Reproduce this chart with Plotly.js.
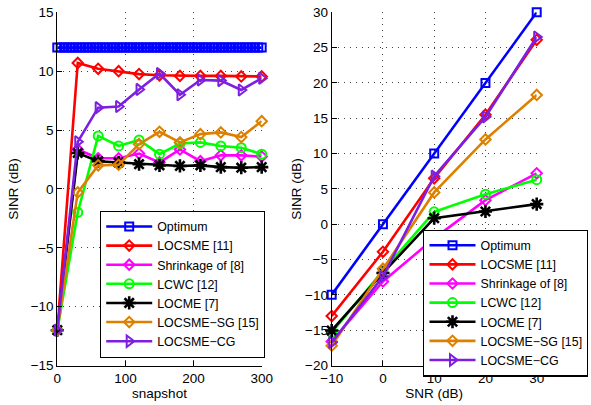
<!DOCTYPE html>
<html>
<head>
<meta charset="utf-8">
<script src="https://cdn.plot.ly/plotly-3.0.1.min.js"></script>
<style>html,body{margin:0;padding:0;background:#fff;}#chart{width:591px;height:405px;}</style>
</head>
<body>
<div id="chart"></div>
<script>
// ---- Data ----
const seriesNames = ["Optimum", "LOCSME [11]", "Shrinkage of [8]", "LCWC [12]", "LOCME [7]", "LOCSME\u2212SG [15]", "LOCSME\u2212CG"];

// Left panel: SINR vs snapshot
const optSnap = [0,5,10,15,20,25,30,35,40,45,50,55,60,65,70,75,80,85,90,95,100,105,110,115,120,125,130,135,140,145,150,155,160,165,170,175,180,185,190,195,200,205,210,215,220,225,230,235,240,245,250,255,260,265,270,275,280,285,290,295,300];
const optSinrSnap = [12,12,12,12,12,12,12,12,12,12,12,12,12,12,12,12,12,12,12,12,12,12,12,12,12,12,12,12,12,12,12,12,12,12,12,12,12,12,12,12,12,12,12,12,12,12,12,12,12,12,12,12,12,12,12,12,12,12,12,12,12];
const snapshots = [0, 30, 60, 90, 120, 150, 180, 210, 240, 270, 300];
const locsmeSnap = [-12, 10.7, 10.2, 10.0, 9.75, 9.65, 9.6, 9.6, 9.6, 9.55, 9.55];
const shrinkSnap = [-12, 3.35, 2.6, 2.6, 3.0, 2.25, 3.35, 2.35, 2.85, 2.85, 2.75];
const lcwcSnap   = [-12, -2.0, 4.5, 3.65, 4.15, 2.95, 3.85, 3.95, 3.65, 3.5, 2.95];
const locmeSnap  = [-12, 3.05, 2.35, 2.25, 2.1, 2.0, 1.95, 2.0, 1.85, 1.8, 1.85];
const sgSnap     = [-12, -0.3, 2.0, 2.05, 3.8, 4.85, 3.95, 4.65, 4.8, 4.4, 5.75];
const cgSnap     = [-12, 4.0, 6.9, 7.0, 8.45, 9.8, 8.0, 9.25, 9.2, 8.4, 9.4];

// Right panel: SINR vs SNR
const snrDb = [-10, 0, 10, 20, 30];
const optSnr    = [-10, 0, 10, 20, 30];
const locsmeSnr = [-13, -3.9, 6.5, 15.5, 26.1];
const shrinkSnr = [-16.6, -8.1, -2.0, 3.4, 7.2];
const lcwcSnr   = [-15.3, -6.6, 1.75, 4.25, 6.3];
const locmeSnr  = [-15.05, -6.9, 0.85, 1.8, 2.85];
const sgSnr     = [-17.2, -6.3, 4.5, 12.0, 18.3];
const cgSnr     = [-16.75, -7.4, 6.8, 15.2, 26.5];

const xTickVals1 = [0, 100, 200, 300];
const xTickVals2 = [-10, 0, 10, 20, 30];

// ---- Styles ----
const colors = ["#0000ff", "#ff0000", "#ff00ff", "#00ff00", "#000000", "#dd8000", "#7c1fe0"];
const symbols = ["square-open", "diamond-open", "diamond-open", "circle-open", "asterisk-open", "diamond-open", "triangle-right-open"];
const msizes = [8, 8, 8, 9, 11, 8, 10];

function mk(i, x, y, xa, ya, leg) {
  return {
    type: "scatter", mode: "lines+markers", x: x, y: y, name: seriesNames[i],
    xaxis: xa, yaxis: ya, legend: leg, cliponaxis: false,
    line: {color: colors[i], width: 2.6},
    marker: {symbol: symbols[i], size: msizes[i], color: colors[i],
             line: {color: colors[i], width: i === 4 ? 2.6 : 2}}
  };
}

const leftY = [optSinrSnap, locsmeSnap, shrinkSnap, lcwcSnap, locmeSnap, sgSnap, cgSnap];
const rightY = [optSnr, locsmeSnr, shrinkSnr, lcwcSnr, locmeSnr, sgSnr, cgSnr];
const traces = [];
for (let i = 0; i < 7; i++) {
  traces.push(mk(i, i === 0 ? optSnap : snapshots, leftY[i], "x", "y", "legend"));
}
for (let i = 0; i < 7; i++) {
  traces.push(mk(i, snrDb, rightY[i], "x2", "y2", "legend2"));
}

const fam = "Liberation Sans, Arial, Helvetica, sans-serif";
const font = {family: fam, size: 13.5, color: "#000"};
const legFont = {family: fam, size: 12.4, color: "#000"};
const axBase = {
  showline: true, linecolor: "#000", linewidth: 1, mirror: false,
  ticks: "inside", ticklen: 5, tickcolor: "#000", tickwidth: 1,
  showgrid: true, gridcolor: "#444", griddash: "1px,5px", gridwidth: 1,
  zeroline: false, tickfont: font, automargin: false
};
const yb = 1 - 365.5/405, yt = 1 - 12.3/405;

const layout = {
  width: 591, height: 405,
  margin: {l: 0, r: 0, t: 0, b: 0},
  paper_bgcolor: "#fff", plot_bgcolor: "#fff",
  font: font,
  xaxis: Object.assign({}, axBase, {domain: [57.3/591, 261.7/591], range: [0, 300], tickvals: xTickVals1,
    title: {text: "snapshot", font: font, standoff: 1}, anchor: "y"}),
  yaxis: Object.assign({}, axBase, {domain: [yb, yt], range: [-15, 15], dtick: 5,
    title: {text: "SINR (dB)", font: font, standoff: 8}, anchor: "x"}),
  xaxis2: Object.assign({}, axBase, {domain: [331.7/591, 536.7/591], range: [-10, 30], tickvals: xTickVals2,
    title: {text: "SNR (dB)", font: font, standoff: 1}, anchor: "y2"}),
  yaxis2: Object.assign({}, axBase, {domain: [yb, yt], range: [-20, 30], dtick: 5,
    title: {text: "SINR (dB)", font: font, standoff: 0}, anchor: "x2"}),
  legend: {x: 100/591, y: 1 - 210.7/405, xanchor: "left", yanchor: "top",
    bgcolor: "#fff", bordercolor: "#000", borderwidth: 1.2, font: legFont,
    itemwidth: 46, tracegroupgap: 0, traceorder: "normal"},
  legend2: {x: 423.3/591, y: 1 - 229.5/405, xanchor: "left", yanchor: "top",
    bgcolor: "#fff", bordercolor: "#000", borderwidth: 1.2, font: legFont,
    itemwidth: 46, tracegroupgap: 0, traceorder: "normal"},
  showlegend: true
};

Plotly.newPlot("chart", traces, layout, {displayModeBar: false, staticPlot: true});
</script>
</body>
</html>
